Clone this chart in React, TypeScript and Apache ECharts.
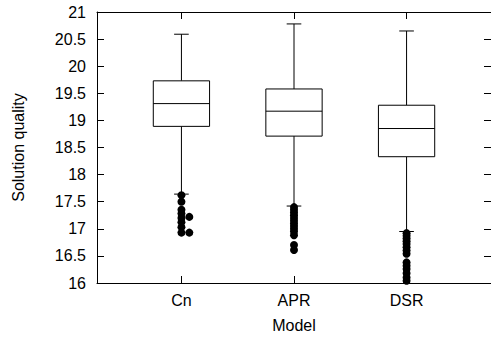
import React, { useEffect, useRef } from "react";
import * as echarts from "echarts";

const models = ["Cn", "APR", "DSR"];
const modelPositions = [1, 2, 3];
const whiskerHigh = [20.59, 20.78, 20.65];
const upperQuartile = [19.73, 19.58, 19.28];
const medians = [19.31, 19.17, 18.85];
const lowerQuartile = [18.89, 18.71, 18.33];
const whiskerLow = [17.64, 17.42, 16.95];

const cnOutliers = [17.62, 17.5, 17.35, 17.28, 17.2, 17.12, 17.03, 16.93];
const cnOutliersShifted = [17.22, 16.93];
const aprOutliers = [17.4, 17.35, 17.3, 17.25, 17.2, 17.15, 17.1, 17.05, 17.0, 16.95, 16.88, 16.7, 16.61];
const dsrOutliers = [16.92, 16.87, 16.82, 16.77, 16.72, 16.66, 16.6, 16.54, 16.38, 16.32, 16.26, 16.18, 16.1, 16.04];

const yTickMin = 16;
const yTickMax = 21;
const yTickStep = 0.5;

const BOX_WIDTH = 0.5;
const CAP_WIDTH = 0.13;
const SHIFT = 0.07;
const FONT = "'Liberation Sans', Arial, Helvetica, sans-serif";
const FS = 16;

export default function App() {
  const ref = useRef<HTMLDivElement>(null);
  useEffect(() => {
    if (!ref.current) return;
    const chart = echarts.init(ref.current, null, { renderer: "svg" });
    const boxData = models.map((_, i) => [
      modelPositions[i],
      whiskerLow[i],
      lowerQuartile[i],
      medians[i],
      upperQuartile[i],
      whiskerHigh[i],
    ]);
    const outlierData: number[][] = [];
    cnOutliers.forEach((v) => outlierData.push([modelPositions[0], v]));
    cnOutliersShifted.forEach((v) => outlierData.push([modelPositions[0] + SHIFT, v]));
    aprOutliers.forEach((v) => outlierData.push([modelPositions[1], v]));
    dsrOutliers.forEach((v) => outlierData.push([modelPositions[2], v]));

    const axisLine = { show: true, onZero: false, lineStyle: { color: "#000", width: 1 } };
    const tick = { show: true, inside: true, length: 7, lineStyle: { color: "#000", width: 1 } };

    chart.setOption({
      animation: false,
      backgroundColor: "#fff",
      grid: { left: 97, right: -1.5, top: 12, bottom: 54, containLabel: false },
      xAxis: [
        {
          type: "value",
          position: "bottom",
          min: 0.25,
          max: 3.75,
          axisLine,
          axisTick: { ...tick, customValues: modelPositions },
          axisLabel: {
            customValues: modelPositions,
            formatter: (v: number) => models[modelPositions.indexOf(v)] ?? "",
            color: "#000",
            fontSize: FS,
            fontFamily: FONT,
            margin: 9,
          },
          splitLine: { show: false },
          name: "Model",
          nameLocation: "middle",
          nameGap: 34,
          nameTextStyle: { color: "#000", fontSize: FS, fontFamily: FONT },
        },
        {
          type: "value",
          position: "top",
          min: 0.25,
          max: 3.75,
          axisLine,
          axisTick: { ...tick, customValues: modelPositions },
          axisLabel: { show: false },
          splitLine: { show: false },
        },
      ],
      yAxis: [
        {
          type: "value",
          position: "left",
          min: yTickMin,
          max: yTickMax,
          interval: yTickStep,
          axisLine,
          axisTick: tick,
          axisLabel: { color: "#000", fontSize: FS, fontFamily: FONT, margin: 11 },
          splitLine: { show: false },
          name: "Solution quality",
          nameLocation: "middle",
          nameGap: 71,
          nameTextStyle: { color: "#000", fontSize: FS, fontFamily: FONT },
        },
        {
          type: "value",
          position: "right",
          min: yTickMin,
          max: yTickMax,
          interval: yTickStep,
          axisLine,
          axisTick: tick,
          axisLabel: { show: false },
          splitLine: { show: false },
        },
      ],
      series: [
        {
          type: "custom",
          xAxisIndex: 0,
          yAxisIndex: 0,
          data: boxData,
          encode: { x: 0, y: [1, 2, 3, 4, 5] },
          renderItem: (params: any, api: any) => {
            const x = api.value(0);
            const c = (v: number) => api.coord([x, v]);
            const [cx, yLow] = c(api.value(1));
            const yQ1 = c(api.value(2))[1];
            const yMed = c(api.value(3))[1];
            const yQ3 = c(api.value(4))[1];
            const yHigh = c(api.value(5))[1];
            const hb = api.size([BOX_WIDTH, 0])[0] / 2;
            const hc = api.size([CAP_WIDTH, 0])[0] / 2;
            const ls = { stroke: "#000", lineWidth: 1 };
            return {
              type: "group",
              children: [
                { type: "line", shape: { x1: cx, y1: yQ3, x2: cx, y2: yHigh }, style: ls },
                { type: "line", shape: { x1: cx - hc, y1: yHigh, x2: cx + hc, y2: yHigh }, style: ls },
                { type: "line", shape: { x1: cx, y1: yQ1, x2: cx, y2: yLow }, style: ls },
                { type: "line", shape: { x1: cx - hc, y1: yLow, x2: cx + hc, y2: yLow }, style: ls },
                {
                  type: "rect",
                  shape: { x: cx - hb, y: yQ3, width: hb * 2, height: yQ1 - yQ3 },
                  style: { fill: "#fff", stroke: "#000", lineWidth: 1 },
                },
                { type: "line", shape: { x1: cx - hb, y1: yMed, x2: cx + hb, y2: yMed }, style: ls },
              ],
            };
          },
        },
        {
          type: "scatter",
          xAxisIndex: 0,
          yAxisIndex: 0,
          data: outlierData,
          symbol: "circle",
          symbolSize: 8,
          itemStyle: { color: "#000", opacity: 1 },
          z: 3,
        },
      ],
    });
    return () => chart.dispose();
  }, []);
  return (
    <div
      ref={ref}
      style={{ position: "absolute", left: 0, top: 0, width: 491, height: 338 }}
    />
  );
}
